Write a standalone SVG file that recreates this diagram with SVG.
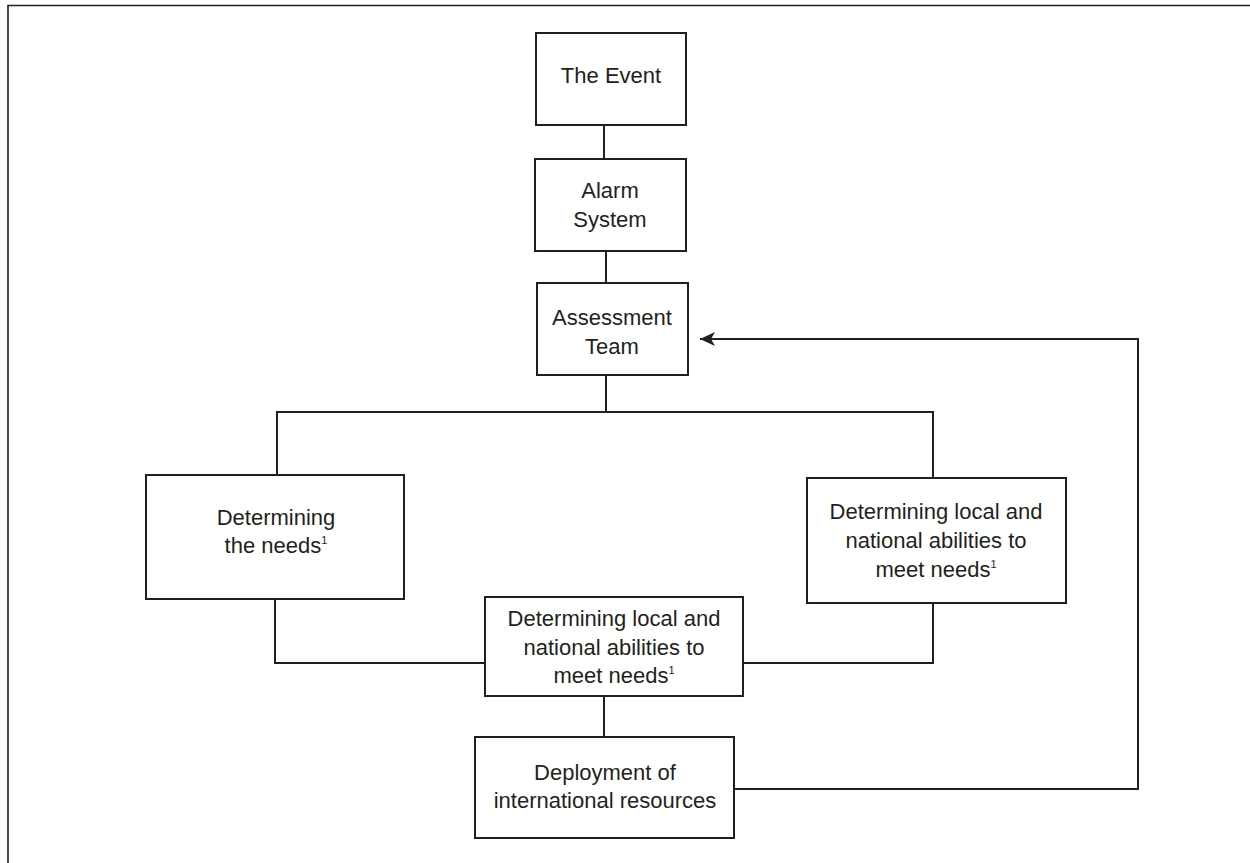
<svg xmlns="http://www.w3.org/2000/svg" width="1250" height="863" viewBox="0 0 1250 863">
<defs>
<style>
.box{fill:#fff;stroke:#231f20;stroke-width:2}
.ln{fill:none;stroke:#231f20;stroke-width:2}
.t{font-family:"Liberation Sans",Arial,sans-serif;font-size:22px;fill:#231f20;text-anchor:middle}
.sup{font-size:11px}
</style>
<marker id="arr" viewBox="-16 -8 17 16" refX="0" refY="0" markerWidth="17" markerHeight="16" markerUnits="userSpaceOnUse" orient="auto">
<path d="M0,0 L-15,-7 L-11,0 L-15,7 Z" fill="#231f20"/>
</marker>
</defs>
<rect width="1250" height="863" fill="#fff"/>
<path d="M8,863 V5.5 H1250" fill="none" stroke="#231f20" stroke-width="1.6"/>
<g id="connectors">
<path class="ln" d="M604,125 V159"/>
<path class="ln" d="M606,251 V283"/>
<path class="ln" d="M606,375 V412"/>
<path class="ln" d="M277,475 V412 H933 V478"/>
<path class="ln" d="M275,599 V663 H485"/>
<path class="ln" d="M933,603 V663 H743"/>
<path class="ln" d="M604,696 V737"/>
<path class="ln" d="M734,789 H1138 V339 H700" marker-end="url(#arr)"/>
</g>
<g id="event">
<rect class="box" x="536" y="33" width="150" height="92"/>
<text class="t" x="611" y="83">The Event</text>
</g>
<g id="alarm">
<rect class="box" x="535" y="159" width="151" height="92"/>
<text class="t" x="610" y="198">Alarm</text>
<text class="t" x="610" y="227">System</text>
</g>
<g id="assessment">
<rect class="box" x="537" y="283" width="151" height="92"/>
<text class="t" x="612" y="325">Assessment</text>
<text class="t" x="612" y="354">Team</text>
</g>
<g id="needs">
<rect class="box" x="146" y="475" width="258" height="124"/>
<text class="t" x="276" y="525">Determining</text>
<text class="t" x="276" y="553">the needs<tspan class="sup" dy="-9">1</tspan></text>
</g>
<g id="abilities-right">
<rect class="box" x="807" y="478" width="259" height="125"/>
<text class="t" x="936" y="519">Determining local and</text>
<text class="t" x="936" y="548">national abilities to</text>
<text class="t" x="936" y="577">meet needs<tspan class="sup" dy="-9">1</tspan></text>
</g>
<g id="abilities-center">
<rect class="box" x="485" y="597" width="258" height="99"/>
<text class="t" x="614" y="626">Determining local and</text>
<text class="t" x="614" y="655">national abilities to</text>
<text class="t" x="614" y="683">meet needs<tspan class="sup" dy="-9">1</tspan></text>
</g>
<g id="deployment">
<rect class="box" x="475" y="737" width="259" height="101"/>
<text class="t" x="605" y="780">Deployment of</text>
<text class="t" x="605" y="808">international resources</text>
</g>
</svg>
